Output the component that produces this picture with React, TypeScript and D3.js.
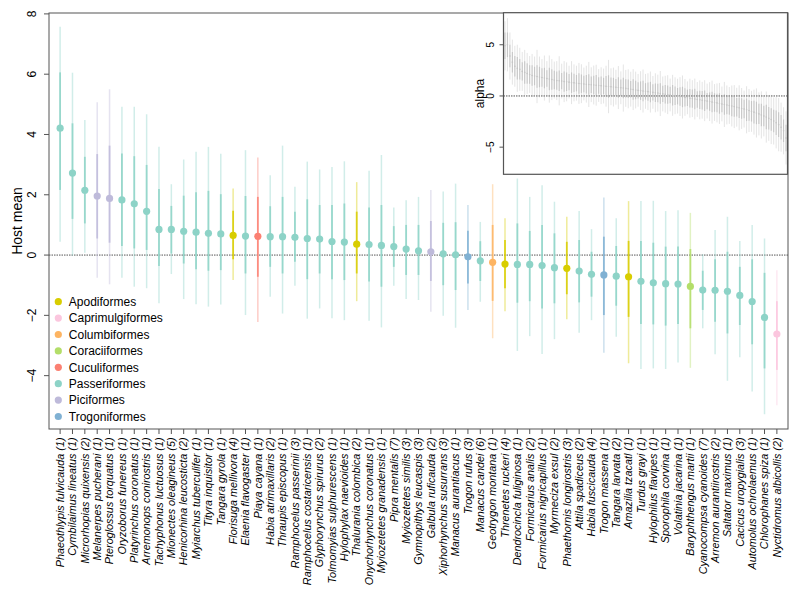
import React from 'react';
import * as d3 from 'd3';

const species = [
  'Phaeothlypis fulvicauda','Cymbilaimus lineatus','Microrhopias quixensis','Melanerpes pucherani','Pteroglossus torquatus',
  'Oryzoborus funereus','Platyrinchus coronatus','Arremonops conirostris','Tachyphonus luctuosus','Mionectes oleagineus',
  'Henicorhina leucosticta','Myiarchus tuberculifer','Tityra inquisitor','Tangara gyrola','Florisuga mellivora',
  'Elaenia flavogaster','Piaya cayana','Habia atrimaxillaris','Thraupis episcopus','Ramphocelus passerinii',
  'Ramphocelus costaricensis','Glyphorynchus spirurus','Tolmomyias sulphurescens','Hylophylax naevioides','Thalurania colombica',
  'Onychorhynchus coronatus','Myiozetetes granadensis','Pipra mentalis','Myiozetetes similis','Gymnopithys leucaspis',
  'Galbula ruficauda','Xiphorhynchus susurrans','Manacus aurantiacus','Trogon rufus','Manacus candei',
  'Geotrygon montana','Threnetes ruckeri','Dendrocincla fuliginosa','Formicarius analis','Formicarius nigricapillus',
  'Myrmeciza exsul','Phaethornis longirostris','Attila spadiceus','Habia fuscicauda','Trogon massena',
  'Tangara larvata','Amazilia tzacatl','Turdus grayi','Hylophilus flavipes','Sporophila corvina',
  'Volatinia jacarina','Baryphthengus martii','Cyanocompsa cyanoides','Arremon aurantiirostris','Saltator maximus',
  'Cacicus uropygialis','Automolus ochrolaemus','Chlorophanes spiza','Nyctidromus albicollis'
];

const sampleCounts = [
  1,1,2,1,1, 1,1,1,1,5, 2,1,1,1,4, 1,1,2,1,3, 1,2,1,1,2, 1,1,7,3,3,
  2,3,1,3,6, 1,4,1,2,1, 2,3,2,4,1, 2,1,1,1,1, 1,1,7,2,1, 3,1,1,2
];

const speciesOrder = [
  'Passeriformes','Passeriformes','Passeriformes','Piciformes','Piciformes',
  'Passeriformes','Passeriformes','Passeriformes','Passeriformes','Passeriformes',
  'Passeriformes','Passeriformes','Passeriformes','Passeriformes','Apodiformes',
  'Passeriformes','Cuculiformes','Passeriformes','Passeriformes','Passeriformes',
  'Passeriformes','Passeriformes','Passeriformes','Passeriformes','Apodiformes',
  'Passeriformes','Passeriformes','Passeriformes','Passeriformes','Passeriformes',
  'Piciformes','Passeriformes','Passeriformes','Trogoniformes','Passeriformes',
  'Columbiformes','Apodiformes','Passeriformes','Passeriformes','Passeriformes',
  'Passeriformes','Apodiformes','Passeriformes','Passeriformes','Trogoniformes',
  'Passeriformes','Apodiformes','Passeriformes','Passeriformes','Passeriformes',
  'Passeriformes','Coraciiformes','Passeriformes','Passeriformes','Passeriformes',
  'Passeriformes','Passeriformes','Passeriformes','Caprimulgiformes'
];

const hostMean = [
  4.21,2.72,2.15,1.96,1.88,1.83,1.70,1.45,0.85,0.85,
  0.79,0.76,0.72,0.70,0.65,0.63,0.62,0.61,0.61,0.59,
  0.55,0.53,0.45,0.43,0.36,0.35,0.32,0.28,0.20,0.14,
  0.11,0.04,0.01,-0.06,-0.19,-0.24,-0.30,-0.31,-0.31,-0.35,
  -0.42,-0.44,-0.53,-0.64,-0.66,-0.70,-0.72,-0.87,-0.92,-0.95,
  -0.96,-1.04,-1.16,-1.17,-1.20,-1.34,-1.54,-2.07,-2.62
];
const lower95 = [
  0.44,-0.02,0.08,-0.75,-0.97,-0.75,-1.05,-1.10,-1.60,-0.63,
  -1.46,-1.63,-1.71,-1.64,-0.83,-1.99,-2.22,-1.38,-1.94,-1.02,
  -2.11,-1.77,-2.10,-2.16,-1.53,-2.18,-2.40,-1.02,-1.46,-1.49,
  -1.88,-2.01,-2.41,-1.82,-1.55,-2.76,-1.86,-3.18,-2.69,-3.28,
  -2.79,-2.13,-2.58,-2.16,-3.24,-2.71,-3.59,-3.78,-3.76,-3.78,
  -3.56,-3.74,-2.43,-3.29,-4.17,-3.39,-4.53,-5.28,-4.98
];
const lower50 = [
  2.16,1.20,1.05,0.55,0.41,0.30,0.22,0.17,-0.36,0.05,
  -0.28,-0.47,-0.52,-0.50,-0.14,-0.61,-0.72,-0.39,-0.61,-0.22,
  -0.80,-0.61,-0.80,-0.83,-0.61,-0.88,-1.05,-0.39,-0.66,-0.66,
  -0.86,-1.00,-1.16,-0.94,-0.86,-1.52,-1.10,-1.58,-1.53,-1.77,
  -1.60,-1.30,-1.57,-1.38,-1.99,-1.68,-2.05,-2.29,-2.30,-2.34,
  -2.29,-2.43,-1.82,-2.21,-2.60,-2.32,-2.96,-3.76,-3.81
];
const upper50 = [
  6.06,4.37,3.26,3.35,3.63,3.37,3.28,2.99,2.19,1.63,
  1.97,2.08,2.13,2.02,1.47,1.96,1.93,1.62,1.93,1.44,
  1.85,1.66,1.66,1.71,1.44,1.58,1.66,0.96,1.00,1.00,
  1.13,1.07,1.09,0.81,0.46,1.00,0.50,1.05,0.80,1.00,
  0.72,0.44,0.50,0.11,0.61,0.30,0.47,0.47,0.41,0.28,
  0.28,0.20,-0.52,-0.14,0.11,-0.39,-0.14,-0.59,-1.53
];
const upper95 = [
  7.57,6.05,4.48,5.07,5.50,4.92,4.92,4.67,3.59,2.35,
  3.17,3.43,3.59,3.36,2.21,3.48,3.24,2.65,3.63,2.27,
  3.10,2.84,2.92,3.11,2.42,2.80,3.32,1.58,1.82,1.93,
  2.16,2.11,2.37,1.66,1.10,2.35,1.22,2.54,1.93,2.32,
  1.77,1.27,1.46,0.86,1.91,1.22,1.79,1.79,1.80,1.46,
  1.49,1.40,0.03,0.83,1.27,0.47,1.00,0.55,-0.50
];

const yTicks = [-4, -2, 0, 2, 4, 6, 8];

const orderNames = ['Apodiformes','Caprimulgiformes','Columbiformes','Coraciiformes','Cuculiformes','Passeriformes','Piciformes','Trogoniformes'];
const orderColors = ['#D8CD00','#FBC6DE','#FDB462','#B3DE69','#FB8072','#8DD3C7','#BEBADA','#80B1D3'];

// inset: alpha estimates for all parasites
const alphaMean = [
  4.9,5.0,3.9,3.3,2.9,2.7,2.6,2.4,2.3,2.2,
  2.1,2.0,1.95,1.9,1.85,1.8,1.75,1.7,1.65,1.6,
  1.55,1.5,1.48,1.45,1.4,1.38,1.35,1.3,1.28,1.25,
  1.22,1.2,1.17,1.15,1.12,1.1,1.07,1.05,1.02,1.0,
  0.97,0.95,0.92,0.9,0.87,0.85,0.82,0.8,0.77,0.74,
  0.7,0.66,0.62,0.58,0.55,0.52,0.48,0.45,0.42,0.38,
  0.35,0.31,0.28,0.24,0.2,0.17,0.13,0.1,0.06,0.02,
  -0.02,-0.06,-0.1,-0.14,-0.18,-0.22,-0.26,-0.3,-0.34,-0.38,
  -0.42,-0.46,-0.5,-0.55,-0.6,-0.64,-0.68,-0.73,-0.78,-0.83,
  -0.88,-0.93,-0.98,-1.04,-1.1,-1.16,-1.22,-1.28,-1.35,-1.42,
  -1.5,-1.58,-1.66,-1.75,-1.85,-1.95,-2.06,-2.18,-2.3,-2.45,
  -2.62,-2.8,-3.05,-3.4,-4.1
];
const alphaOuterHalf = [
  2.4,2.6,2.3,2.2,2.0,2.3,2.1,1.9,2.2,2.0,
  1.8,2.1,1.9,2.6,2.0,1.8,2.2,1.7,2.3,2.0,
  1.8,1.9,2.4,1.7,2.0,1.9,1.6,2.1,1.8,1.7,
  2.0,1.9,1.6,1.8,2.2,1.7,1.9,2.0,1.6,1.8,
  1.7,2.0,2.6,1.8,1.9,1.7,2.1,1.6,2.3,1.8,
  1.9,1.7,2.0,1.8,1.6,1.9,2.1,1.7,1.8,2.0,
  1.6,1.9,1.8,2.2,1.7,1.8,1.9,1.6,2.0,1.8,
  1.7,1.9,2.1,1.8,1.6,1.9,1.8,2.0,1.7,1.9,
  1.8,2.0,1.7,1.9,2.1,1.8,1.9,2.0,1.7,2.2,
  1.9,1.8,2.0,2.1,1.9,2.2,2.0,1.8,2.3,2.1,
  2.0,2.2,2.4,2.1,2.3,2.0,2.5,2.2,2.4,2.3,
  2.5,2.6,2.4,2.3,2.6
];
const alphaInnerHalf = [
  1.3,1.2,1.1,1.0,1.0,1.1,1.0,0.9,1.1,1.0,
  0.9,1.0,0.9,1.1,1.0,0.9,1.0,0.8,1.1,1.0,
  0.9,0.9,1.0,0.8,1.0,0.9,0.8,1.0,0.9,0.8,
  1.0,0.9,0.8,0.9,1.0,0.8,0.9,1.0,0.8,0.9,
  0.8,1.0,1.1,0.9,0.9,0.8,1.0,0.8,1.0,0.9,
  0.9,0.8,1.0,0.9,0.8,0.9,1.0,0.8,0.9,1.0,
  0.8,0.9,0.9,1.0,0.8,0.9,0.9,0.8,1.0,0.9,
  0.8,0.9,1.0,0.9,0.8,0.9,0.9,1.0,0.8,0.9,
  0.9,1.0,0.8,0.9,1.0,0.9,0.9,1.0,0.8,1.0,
  0.9,0.9,1.0,1.0,0.9,1.0,1.0,0.9,1.1,1.0,
  1.0,1.1,1.1,1.0,1.1,1.0,1.2,1.1,1.1,1.1,
  1.2,1.2,1.2,1.1,1.3
];
const alphaTicks = [-5, 0, 5];

const FONT = '"Liberation Sans", Arial, Helvetica, sans-serif';

export default function App() {
  const left = 49, right = 788, top = 13, bottom = 429;
  const x = d3.scalePoint<string>().domain(species).range([left, right]).padding(0.9);
  const y = d3.scaleLinear().domain([-5.77, 8.03]).range([bottom, top]);
  const colorOf = d3.scaleOrdinal<string, string>().domain(orderNames).range(orderColors);

  const iL = 503.5, iR = 787.5, iT = 12.7, iB = 174.3;
  const xi = d3.scalePoint<number>().domain(d3.range(alphaMean.length)).range([iL, iR]).padding(0.6);
  const yi = d3.scaleLinear().domain([-7.65, 8.13]).range([iB, iT]);

  const frame = '#555';

  return (
    <svg width={800} height={595} style={{ position: 'absolute', left: 0, top: 0, background: '#fff' }} fontFamily={FONT}>
      <rect x={0} y={0} width={800} height={595} fill="#fff" />
      {/* zero line */}
      <line x1={left} x2={right} y1={y(0)} y2={y(0)} stroke="#555" strokeWidth={1} strokeDasharray="1.5 1" />
      {/* bars */}
      {species.map((s, i) => {
        const c = colorOf(speciesOrder[i]);
        const cx = x(s)!;
        return (
          <g key={s}>
            <line x1={cx} x2={cx} y1={y(lower95[i])} y2={y(upper95[i])} stroke={c} strokeOpacity={0.4} strokeWidth={1.5} />
            <line x1={cx} x2={cx} y1={y(lower50[i])} y2={y(upper50[i])} stroke={c} strokeOpacity={0.85} strokeWidth={1.8} />
            <circle cx={cx} cy={y(hostMean[i])} r={3.6} fill={c} />
          </g>
        );
      })}
      {/* y axis */}
      {yTicks.map(t => (
        <g key={t}>
          <line x1={left} x2={left - 5} y1={y(t)} y2={y(t)} stroke={frame} />
          <text transform={`translate(${left - 13},${y(t)}) rotate(-90)`} textAnchor="middle" fontSize={12} fill="#000">
            {t < 0 ? `\u2212${-t}` : `${t}`}
          </text>
        </g>
      ))}
      <text transform={`translate(17,${(top + bottom) / 2}) rotate(-90)`} textAnchor="middle" fontSize={14} dy="0.35em">Host mean</text>
      {/* x axis */}
      {species.map((s, i) => (
        <g key={'xt' + s}>
          <line x1={x(s)!} x2={x(s)!} y1={bottom} y2={bottom + 5} stroke={frame} />
          <text transform={`translate(${x(s)!},${bottom + 8.5}) rotate(-90)`} textAnchor="end" dy="0.35em" fontSize={10.8} fontStyle="italic">
            {`${s} (${sampleCounts[i]})`}
          </text>
        </g>
      ))}
      {/* legend */}
      {orderNames.map((o, i) => (
        <g key={o} transform={`translate(58.3,${301.7 + i * 16.4})`}>
          <circle cx={0} cy={0} r={3.6} fill={colorOf(o)} />
          <text x={10.5} y={0} dy="0.35em" fontSize={12}>{o}</text>
        </g>
      ))}
      {/* frame */}
      <rect x={left} y={top} width={right - left} height={bottom - top} fill="none" stroke={frame} strokeWidth={1} />

      {/* inset */}
      <rect x={iL} y={iT} width={iR - iL} height={iB - iT} fill="#fff" stroke="none" />
      <line x1={iL} x2={iR} y1={yi(0)} y2={yi(0)} stroke="#555" strokeWidth={1} strokeDasharray="1.5 1" />
      {alphaMean.map((m, i) => {
        const cx = xi(i)!;
        return (
          <g key={'a' + i}>
            <line x1={cx} x2={cx} y1={yi(m - alphaOuterHalf[i])} y2={yi(m + alphaOuterHalf[i])} stroke="#999" strokeOpacity={0.25} strokeWidth={1} />
            <line x1={cx} x2={cx} y1={yi(m - alphaInnerHalf[i])} y2={yi(m + alphaInnerHalf[i])} stroke="#999" strokeOpacity={0.4} strokeWidth={1.2} />
            <circle cx={cx} cy={yi(m)} r={0.8} fill="#c4c4c4" />
          </g>
        );
      })}
      {alphaTicks.map(t => (
        <g key={'at' + t}>
          <line x1={iL} x2={iL - 4} y1={yi(t)} y2={yi(t)} stroke={frame} />
          <text transform={`translate(${iL - 10},${yi(t)}) rotate(-90)`} textAnchor="middle" fontSize={10}>
            {t < 0 ? `\u2212${-t}` : `${t}`}
          </text>
        </g>
      ))}
      <text transform={`translate(480,${(iT + iB) / 2}) rotate(-90)`} textAnchor="middle" dy="0.35em" fontSize={12}>alpha</text>
      <rect x={iL} y={iT} width={iR - iL} height={iB - iT} fill="none" stroke={frame} strokeWidth={1.2} />
    </svg>
  );
}
